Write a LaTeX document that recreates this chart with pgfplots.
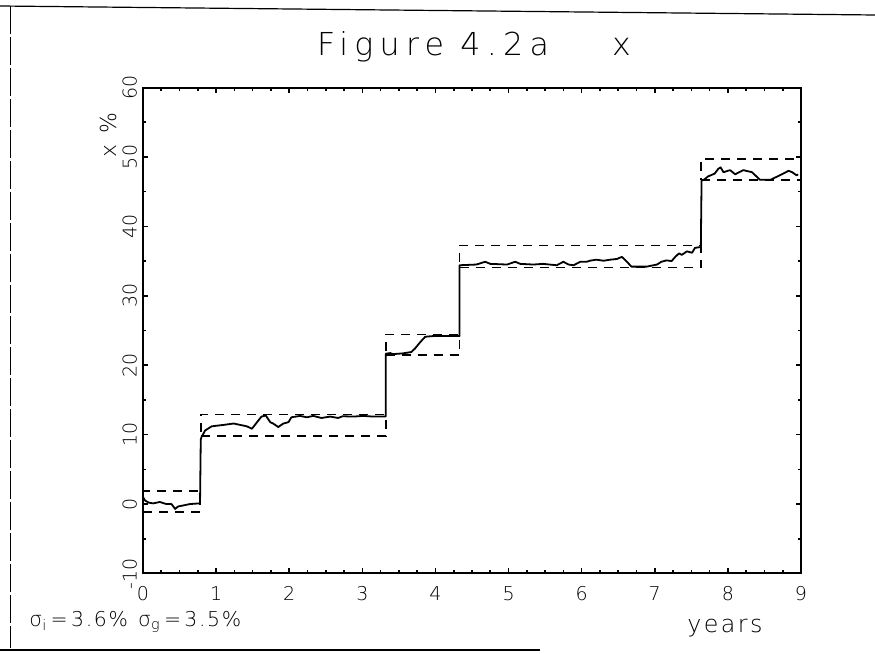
\documentclass[border=0pt]{standalone}
\usepackage{fontspec}
\IfFontExistsTF{DejaVu Sans ExtraLight}{\setmainfont{DejaVu Sans ExtraLight}}{\setmainfont{DejaVu Sans}}
\usepackage{pgfplots}
\pgfplotsset{compat=1.18}
\begin{document}
\begin{tikzpicture}
\useasboundingbox (0pt,0pt) rectangle (437.5pt,327pt);
% scanned frame lines
\draw[line width=0.6pt] (0pt,324pt) -- (437.5pt,319.5pt);
\draw[line width=0.5pt, dash pattern=on 14pt off 1.5pt] (5pt,324pt) -- (5pt,3pt);
\draw[line width=0.9pt] (0pt,2pt) -- (270pt,2pt);
\begin{axis}[
  at={(71.5pt,40.25pt)}, anchor=south west,
  scale only axis, width=329pt, height=243pt,
  xmin=0, xmax=9, ymin=-10, ymax=60,
  xtick={0,1,...,9}, ytick={-10,0,10,20,30,40,50,60},
  minor x tick num=3, minor y tick num=1,
  tick align=inside, major tick length=2.6pt, minor tick length=1.6pt,
  axis line style={line width=1pt},
  every tick/.style={black, line width=0.8pt},
  /pgf/number format/assume math mode=true,
  tick label style={font=\fontsize{9.5}{11}\selectfont},
  xticklabel style={inner sep=0pt, outer sep=0pt},
  xticklabel shift=6.5pt,
  yticklabel style={rotate=90, anchor=south, inner sep=0pt, outer sep=0pt},
  yticklabel shift=3pt,
  clip=false,
]
% dashed boxes
\addplot[black, line width=0.8pt, dash pattern=on 4.5pt off 3.5pt] coordinates {(0,-1.1) (0.78,-1.1) (0.78,1.85) (0,1.85)};
\addplot[black, line width=0.8pt, dash pattern=on 4.5pt off 3.5pt] coordinates {(0.79,9.8) (3.32,9.8) (3.32,12.9) (0.79,12.9) (0.79,9.8)};
\addplot[black, line width=0.8pt, dash pattern=on 4.5pt off 3.5pt] coordinates {(3.32,21.45) (4.33,21.45) (4.33,24.45) (3.32,24.45) (3.32,21.45)};
\addplot[black, line width=0.8pt, dash pattern=on 4.5pt off 3.5pt] coordinates {(4.33,34.05) (7.63,34.05) (7.63,37.25) (4.33,37.25) (4.33,34.05)};
\addplot[black, line width=0.8pt, dash pattern=on 4.5pt off 3.5pt] coordinates {(7.63,46.7) (9.0,46.7) (9.0,49.7) (7.63,49.7) (7.63,46.7)};
% estimated path
\addplot[black, line width=0.9pt, line join=round] coordinates {
(0,1.0) (0.03,0.5) (0.08,0.2) (0.14,0.1) (0.23,0.3) (0.32,0.0) (0.39,0.0) (0.44,-0.7) (0.48,-0.35) (0.55,-0.2) (0.64,0.0) (0.77,0.1)
(0.78,0.1) (0.79,9.3) (0.80,9.64) (0.85,10.6) (0.94,11.2) (1.10,11.4) (1.24,11.6) (1.33,11.4) (1.42,11.2) (1.49,10.85) (1.56,11.8) (1.62,12.6) (1.68,12.75) (1.74,11.8) (1.78,11.6) (1.85,11.1) (1.92,11.6) (1.99,11.8) (2.03,12.5) (2.15,12.7) (2.24,12.5) (2.33,12.7) (2.44,12.4) (2.56,12.6) (2.67,12.4) (2.73,12.65) (2.88,12.6) (3.01,12.7) (3.15,12.6) (3.31,12.6)
(3.32,12.6) (3.32,21.65) (3.38,21.75) (3.42,21.6) (3.55,21.7) (3.67,21.9) (3.72,22.4) (3.79,23.3) (3.86,24.1) (3.97,24.2) (4.15,24.2) (4.32,24.2)
(4.33,24.2) (4.33,34.4) (4.56,34.5) (4.68,34.9) (4.75,34.6) (4.98,34.5) (5.09,34.9) (5.16,34.6) (5.34,34.5) (5.47,34.6) (5.56,34.5) (5.66,34.4) (5.75,34.9) (5.82,34.5) (5.89,34.4) (5.98,34.9) (6.07,34.9) (6.11,35.05) (6.20,35.2) (6.30,35.05) (6.39,35.2) (6.48,35.3) (6.55,35.6) (6.62,34.9) (6.68,34.2) (6.89,34.2) (7.03,34.5) (7.09,34.9) (7.16,35.1) (7.23,35.0) (7.28,35.6) (7.33,36.1) (7.37,35.9) (7.44,36.4) (7.51,36.2) (7.55,36.9) (7.61,37.0)
(7.63,37.0) (7.64,46.6) (7.67,46.7) (7.73,47.2) (7.82,47.6) (7.87,48.3) (7.90,48.5) (7.94,47.8) (8.03,48.1) (8.10,47.5) (8.21,48.1) (8.33,47.8) (8.44,46.7) (8.58,46.7) (8.71,47.35) (8.83,48.0) (8.88,47.8) (8.94,47.35) (8.96,47.5)
};
\end{axis}
% title
\node at (237pt,303.75pt) {\fontsize{15.8}{18}\selectfont\addfontfeature{LetterSpace=20}Figure 4.2a\hspace{2em}x};
% y label
\node[rotate=90] at (54pt,259.5pt) {\fontsize{11}{13}\selectfont\addfontfeature{LetterSpace=15}x \%};
% x label
\node[anchor=base] at (362.5pt,10.5pt) {\fontsize{11.9}{14}\selectfont\addfontfeature{LetterSpace=10}years};
% sigma text
\node[anchor=base west, inner sep=0pt] at (14.5pt,13.5pt) {\fontsize{10.2}{12}\selectfont\addfontfeature{LetterSpace=8}σ\textsubscript{i}\,=\,3.6\%\enspace σ\textsubscript{g}\,=\,3.5\%};
\end{tikzpicture}
\end{document}
